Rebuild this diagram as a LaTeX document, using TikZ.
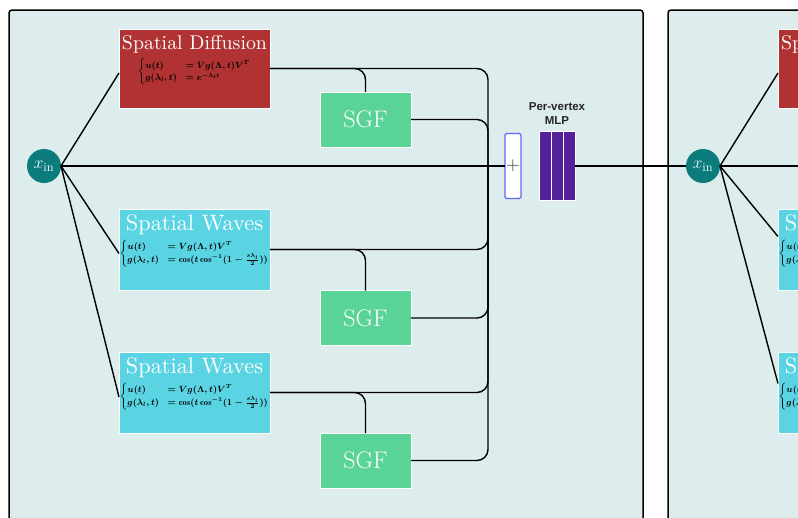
\documentclass[tikz,border=0pt]{standalone}
\usepackage{amsmath}
\usepackage{graphicx}
\usepackage{fontspec}
\newfontfamily\labelfont{Liberation Sans}
\usetikzlibrary{calc}
\definecolor{panelbg}{HTML}{DDECEC}
\definecolor{diffred}{HTML}{B03232}
\definecolor{wavecyan}{HTML}{5AD3E3}
\definecolor{sgfgreen}{HTML}{5AD396}
\definecolor{xteal}{HTML}{0B7B7B}
\definecolor{mlppurple}{HTML}{55219A}
\definecolor{plusblue}{HTML}{6464FF}
\newcommand{\difftitle}{\resizebox{145pt}{!}{Spatial Diffusion}}
\newcommand{\wavetitle}{\resizebox{137pt}{!}{Spatial Waves}}
\newcommand{\diffeq}{$\begin{cases} u(t) & = Vg(\Lambda,t)V^T\\ g(\lambda_l,t) & = e^{-\lambda_l t}\end{cases}$}
\newcommand{\waveeq}{$\begin{cases} u(t) & = Vg(\Lambda,t)V^T\\ g(\lambda_l,t) & = \cos(t\cos^{-1}(1-\frac{s\lambda_l}{2}))\end{cases}$}
\begin{document}
\begin{tikzpicture}[x=1pt,y=-1pt,
 panel/.style={draw=black, line width=1.5pt, fill=panelbg, rounded corners=3pt},
 block/.style={rectangle, draw=white, line width=0.8pt, inner sep=0pt, outer sep=0pt, minimum width=151pt},
 diffblock/.style={block, fill=diffred, minimum height=79pt},
 waveblock/.style={block, fill=wavecyan, minimum height=81pt},
 sgfbox/.style={rectangle, draw=white, line width=0.8pt, fill=sgfgreen, minimum width=91pt, minimum height=55pt, inner sep=0pt, outer sep=0pt, text=white, font=\fontsize{24}{24}\selectfont},
 btitle/.style={anchor=north, text=white, inner sep=0pt},
 eqn/.style={anchor=north, text=black, font=\fontsize{8.6}{10.6}\selectfont\boldmath, inner sep=0pt},
 xin/.style={circle, fill=xteal, minimum size=34pt, inner sep=0pt, outer sep=0pt, text=white, font=\fontsize{18}{18}\selectfont},
 wire/.style={draw=black, line width=1.4pt, rounded corners=11pt},
 mlpbar/.style={rectangle, fill=mlppurple, draw=white, line width=0.6pt, minimum width=12pt, minimum height=69pt, inner sep=0pt, outer sep=0pt},
]
\clip (0,0) rectangle (798,517);
\fill[white] (0,0) rectangle (798,517);
\draw[panel] (9,10) rectangle (643,545);
\draw[panel] (668,10) rectangle (980,545);

% ---------- left panel ----------
\node[xin] (xin) at (44,166) {$x_{\mathrm{in}}$};
\node[diffblock] (diff) at (194.5,68.5) {};
\node[waveblock] (w1) at (194.5,249.5) {};
\node[waveblock] (w2) at (194.5,392.5) {};
\node[btitle] (difft) at ($(diff.north)+(0,6)$) {\difftitle};
\node[eqn] (diffe) at ($(difft.south)+(0,5)$) {\diffeq};
\node[btitle] (w1t) at ($(w1.north)+(0,6)$) {\wavetitle};
\node[eqn] (w1e) at ($(w1t.south)+(0,4)$) {\waveeq};
\node[btitle] (w2t) at ($(w2.north)+(0,6)$) {\wavetitle};
\node[eqn] (w2e) at ($(w2t.south)+(0,4)$) {\waveeq};

\node[sgfbox] (sgf1) at (365.5,119.5) {SGF};
\node[sgfbox] (sgf2) at (365.5,318) {SGF};
\node[sgfbox] (sgf3) at (365.5,460.5) {SGF};

\node[rectangle, draw=plusblue, fill=white, line width=1.2pt, rounded corners=1.5pt, minimum width=16pt, minimum height=65pt, inner sep=0pt, outer sep=0pt, text=black!80, font=\fontsize{19}{19}\selectfont] (plus) at (513,166) {+};
\node[mlpbar] (mlp1) at (545,166) {};
\node[mlpbar] (mlp2) at (557,166) {};
\node[mlpbar] (mlp3) at (569,166) {};
\node[font=\labelfont\bfseries\fontsize{11.5}{14}\selectfont, text=black!85, align=center, anchor=south, inner sep=0pt] (mlpl) at ($(mlp2.north)+(0,-7)$) {Per-vertex\\MLP};

\coordinate (j) at (488,166);
\coordinate (diffin) at ($(diff.west)+(0,4.5)$);
\coordinate (w1in) at ($(w1.west)+(0,4)$);
\coordinate (w2in) at ($(w2.west)+(0,4.5)$);

\draw[wire] (xin.east) -- (diffin);
\draw[wire] (xin.east) -- (w1in);
\draw[wire] (xin.east) -- (w2in);
\draw[wire] (xin.east) -- (plus.west);

\draw[wire] (diff.east) -| (sgf1.north);
\draw[wire] (diff.east) -| (j);
\draw[wire] (sgf1.east) -| (j);
\draw[wire] (w1.east) -| (sgf2.north);
\draw[wire] (w1.east) -| (j);
\draw[wire] (sgf2.east) -| (j);
\draw[wire] (w2.east) -| (sgf3.north);
\draw[wire] (w2.east) -| (j);
\draw[wire] (sgf3.east) -| (j);

% ---------- right panel ----------
\node[xin] (xin2) at (703,166) {$x_{\mathrm{in}}$};
\draw[wire] (mlp3.east) -- (xin2.west);
\node[diffblock] (diffb) at (853.5,68.5) {};
\node[waveblock] (w1b) at (853.5,249.5) {};
\node[waveblock] (w2b) at (853.5,392.5) {};
\node[btitle] (difftb) at ($(diffb.north)+(0,6)$) {\difftitle};
\node[eqn] at ($(difftb.south)+(0,5)$) {\diffeq};
\node[btitle] (w1tb) at ($(w1b.north)+(0,6)$) {\wavetitle};
\node[eqn] at ($(w1tb.south)+(0,4)$) {\waveeq};
\node[btitle] (w2tb) at ($(w2b.north)+(0,6)$) {\wavetitle};
\node[eqn] at ($(w2tb.south)+(0,4)$) {\waveeq};
\coordinate (diffinb) at ($(diffb.west)+(0,4.5)$);
\coordinate (w1inb) at ($(w1b.west)+(0,-13)$);
\coordinate (w2inb) at ($(w2b.west)+(0,-9)$);
\coordinate (rightend) at (820,166);
\draw[wire] (xin2.east) -- (diffinb);
\draw[wire] (xin2.east) -- (w1inb);
\draw[wire] (xin2.east) -- (w2inb);
\draw[wire] (xin2.east) -- (rightend);
\end{tikzpicture}
\end{document}
